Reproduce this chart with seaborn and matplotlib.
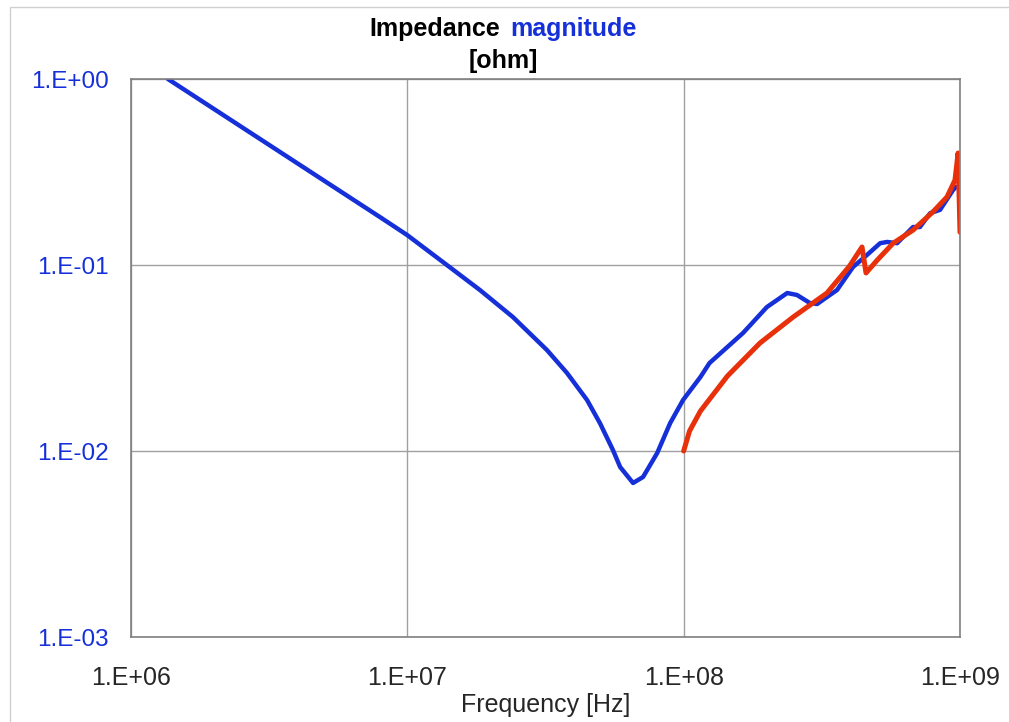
import pandas as pd
import seaborn as sns
import matplotlib.pyplot as plt
from matplotlib.patches import Rectangle

meas_freq = [1.36e6, 7.96e6, 9.98e6, 1.39e7, 1.83e7, 2.41e7, 3.20e7, 3.78e7, 4.47e7,
             4.98e7, 5.55e7, 5.89e7, 6.56e7, 7.13e7, 8.02e7, 8.93e7, 9.95e7, 1.15e8,
             1.24e8, 1.64e8, 2.00e8, 2.37e8, 2.57e8, 2.86e8, 3.04e8, 3.59e8, 4.10e8,
             4.60e8, 5.14e8, 5.45e8, 5.92e8, 6.76e8, 7.16e8, 7.80e8, 8.47e8, 9.44e8, 9.68e8]
meas_z = [1.0, 0.181, 0.145, 0.100, 0.0734, 0.0525, 0.0349, 0.0263, 0.0188,
          0.0141, 0.0101, 0.0082, 0.00673, 0.00725, 0.00975, 0.0141, 0.0188, 0.0250,
          0.0297, 0.0431, 0.0594, 0.0707, 0.0690, 0.0625, 0.0617, 0.0734, 0.0975,
          0.113, 0.131, 0.133, 0.131, 0.160, 0.160, 0.190, 0.198, 0.253, 0.263]

# Simulated impedance (red)
sim_freq = [1.0e8, 1.05e8, 1.15e8, 1.44e8, 1.89e8, 2.49e8, 3.30e8, 3.98e8, 4.42e8,
            4.57e8, 5.01e8, 5.73e8, 6.76e8, 7.98e8, 8.97e8, 9.59e8, 9.84e8, 1.0e9]
sim_z = [0.0100, 0.0128, 0.0164, 0.0253, 0.0381, 0.0525, 0.0707, 0.0985, 0.125,
         0.0906, 0.106, 0.131, 0.154, 0.193, 0.232, 0.286, 0.400, 0.150]

x_ticks = [1e6, 1e7, 1e8, 1e9]
x_labels = ["1.E+06", "1.E+07", "1.E+08", "1.E+09"]
y_ticks = [1e-3, 1e-2, 1e-1, 1e0]
y_labels = ["1.E-03", "1.E-02", "1.E-01", "1.E+00"]

blue = "#1530d8"
red = "#e8300a"

sns.set_style("white")
plt.rcParams['font.family'] = ['Liberation Sans', 'DejaVu Sans']

meas_df = pd.DataFrame({"freq": meas_freq, "z": meas_z})
sim_df = pd.DataFrame({"freq": sim_freq, "z": sim_z})

fig = plt.figure(figsize=(10.09, 7.22), dpi=100)
ax = fig.add_axes([131 / 1009, 1 - 637 / 722, 829 / 1009, 558 / 722])

sns.lineplot(data=meas_df, x="freq", y="z", color=blue, linewidth=3.2, ax=ax, sort=False)
sns.lineplot(data=sim_df, x="freq", y="z", color=red, linewidth=3.6, ax=ax, sort=False)

ax.set_xscale("log")
ax.set_yscale("log")
ax.set_xlim(1e6, 1e9)
ax.set_ylim(1e-3, 1e0)
ax.set_xticks(x_ticks)
ax.set_xticklabels(x_labels, fontsize=18)
ax.set_yticks(y_ticks)
ax.set_yticklabels(y_labels, fontsize=17.5, color=blue)
ax.minorticks_off()
ax.tick_params(axis="x", length=0, pad=21)
ax.tick_params(axis="y", length=6, width=1, color="#808080", direction="out", pad=10)
ax.grid(True, color="#a0a0a0", linewidth=1)
for s in ax.spines.values():
    s.set_color("#808080")
    s.set_linewidth(1.2)
ax.set_xlabel("Frequency [Hz]", fontsize=18, labelpad=2)
ax.set_ylabel("")

# two-colour title
fig.text(500 / 1009, 1 - 29 / 722, "Impedance", ha="right", va="center",
         fontsize=18, fontweight="bold", color="black")
fig.text(510 / 1009, 1 - 29 / 722, "magnitude", ha="left", va="center",
         fontsize=18, fontweight="bold", color=blue)
fig.text(503 / 1009, 1 - 61 / 722, "[ohm]", ha="center", va="center",
         fontsize=18, fontweight="bold", color="black")

# light frame around the chart area
fig.patches.append(Rectangle((10 / 1009, -0.05), 1.1, 1 - 7 / 722 + 0.05,
                             transform=fig.transFigure, fill=False,
                             edgecolor="#d0d0d0", linewidth=1))

plt.savefig("out.png", dpi=100)
